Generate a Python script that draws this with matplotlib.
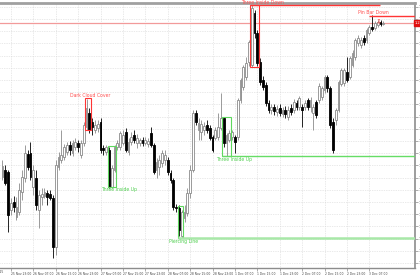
import numpy as np
import matplotlib
matplotlib.use("Agg")
import matplotlib.pyplot as plt
from matplotlib.patches import Rectangle
from matplotlib.transforms import blended_transform_factory

# ---------------- data (EURUSD H1, 25 Nov 2025 - 3 Dec 2025) ----------------
opens = [1.2391, 1.2398, 1.2396, 1.2358, 1.2366, 1.2351, 1.2356, 1.2376, 1.2390, 1.2414,
         1.2415, 1.2381, 1.2390, 1.2358, 1.2371, 1.2372, 1.2375, 1.2374, 1.2370, 1.2321,
         1.2401, 1.2408, 1.2411, 1.2416, 1.2423, 1.2415, 1.2421, 1.2425, 1.2413, 1.2425,
         1.2441, 1.2455, 1.2446, 1.2438, 1.2440, 1.2446, 1.2420, 1.2416, 1.2418, 1.2381,
         1.2398, 1.2421, 1.2421, 1.2425, 1.2436, 1.2416, 1.2426, 1.2433, 1.2425, 1.2425,
         1.2428, 1.2425, 1.2424, 1.2435, 1.2423, 1.2398, 1.2401, 1.2405, 1.2408, 1.2408,
         1.2395, 1.2388, 1.2361, 1.2360, 1.2332, 1.2350, 1.2355, 1.2375, 1.2398, 1.2455,
         1.2438, 1.2436, 1.2438, 1.2443, 1.2440, 1.2431, 1.2430, 1.2431, 1.2440, 1.2450,
         1.2425, 1.2428, 1.2431, 1.2431, 1.2431, 1.2468, 1.2481, 1.2491, 1.2506, 1.2503,
         1.2555, 1.2535, 1.2506, 1.2488, 1.2483, 1.2465, 1.2458, 1.2461, 1.2456, 1.2460,
         1.2454, 1.2458, 1.2451, 1.2460, 1.2458, 1.2465, 1.2461, 1.2461, 1.2461, 1.2468,
         1.2461, 1.2455, 1.2466, 1.2468, 1.2471, 1.2478, 1.2491, 1.2480, 1.2446, 1.2448,
         1.2458, 1.2484, 1.2485, 1.2496, 1.2491, 1.2503, 1.2511, 1.2525, 1.2523, 1.2530,
         1.2528, 1.2535, 1.2541, 1.2540, 1.2543, 1.2546, 1.2544]
highs = [1.2408, 1.2403, 1.2398, 1.2370, 1.2372, 1.2371, 1.2385, 1.2398, 1.2423, 1.2418,
         1.2426, 1.2403, 1.2398, 1.2378, 1.2380, 1.2380, 1.2378, 1.2378, 1.2373, 1.2408,
         1.2416, 1.2438, 1.2424, 1.2426, 1.2427, 1.2428, 1.2430, 1.2428, 1.2428, 1.2446,
         1.2469, 1.2460, 1.2450, 1.2448, 1.2448, 1.2450, 1.2423, 1.2423, 1.2421, 1.2403,
         1.2423, 1.2428, 1.2437, 1.2438, 1.2440, 1.2430, 1.2436, 1.2438, 1.2434, 1.2430,
         1.2431, 1.2431, 1.2430, 1.2441, 1.2425, 1.2410, 1.2413, 1.2418, 1.2418, 1.2411,
         1.2398, 1.2390, 1.2364, 1.2363, 1.2358, 1.2363, 1.2380, 1.2403, 1.2458, 1.2458,
         1.2450, 1.2448, 1.2446, 1.2448, 1.2443, 1.2433, 1.2441, 1.2455, 1.2475, 1.2451,
         1.2435, 1.2438, 1.2438, 1.2433, 1.2470, 1.2490, 1.2503, 1.2511, 1.2528, 1.2563,
         1.2558, 1.2538, 1.2510, 1.2492, 1.2486, 1.2468, 1.2464, 1.2464, 1.2463, 1.2464,
         1.2461, 1.2462, 1.2462, 1.2464, 1.2469, 1.2468, 1.2472, 1.2464, 1.2468, 1.2470,
         1.2471, 1.2464, 1.2468, 1.2485, 1.2482, 1.2493, 1.2493, 1.2482, 1.2450, 1.2460,
         1.2488, 1.2500, 1.2500, 1.2511, 1.2512, 1.2518, 1.2530, 1.2533, 1.2531, 1.2533,
         1.2540, 1.2543, 1.2553, 1.2547, 1.2548, 1.2548, 1.2547]
lows = [1.2388, 1.2383, 1.2336, 1.2353, 1.2356, 1.2348, 1.2353, 1.2368, 1.2386, 1.2398,
        1.2388, 1.2373, 1.2358, 1.2340, 1.2363, 1.2370, 1.2363, 1.2368, 1.2310, 1.2313,
        1.2398, 1.2405, 1.2408, 1.2413, 1.2413, 1.2412, 1.2418, 1.2416, 1.2410, 1.2422,
        1.2438, 1.2435, 1.2433, 1.2435, 1.2436, 1.2415, 1.2413, 1.2413, 1.2380, 1.2380,
        1.2396, 1.2418, 1.2418, 1.2423, 1.2416, 1.2413, 1.2423, 1.2425, 1.2420, 1.2422,
        1.2422, 1.2423, 1.2421, 1.2421, 1.2394, 1.2390, 1.2393, 1.2401, 1.2403, 1.2393,
        1.2385, 1.2358, 1.2356, 1.2332, 1.2330, 1.2346, 1.2352, 1.2370, 1.2396, 1.2443,
        1.2428, 1.2428, 1.2433, 1.2435, 1.2428, 1.2416, 1.2428, 1.2428, 1.2438, 1.2421,
        1.2412, 1.2426, 1.2428, 1.2415, 1.2428, 1.2465, 1.2478, 1.2488, 1.2502, 1.2501,
        1.2530, 1.2502, 1.2483, 1.2478, 1.2462, 1.2455, 1.2454, 1.2453, 1.2452, 1.2452,
        1.2451, 1.2450, 1.2448, 1.2453, 1.2455, 1.2458, 1.2458, 1.2441, 1.2458, 1.2458,
        1.2456, 1.2438, 1.2450, 1.2465, 1.2468, 1.2475, 1.2476, 1.2440, 1.2415, 1.2443,
        1.2456, 1.2482, 1.2482, 1.2486, 1.2489, 1.2501, 1.2508, 1.2522, 1.2520, 1.2523,
        1.2525, 1.2533, 1.2537, 1.2538, 1.2541, 1.2542, 1.2543]
closes = [1.2402, 1.2385, 1.2353, 1.2365, 1.2361, 1.2361, 1.2378, 1.2391, 1.2415, 1.2401,
          1.2391, 1.2398, 1.2363, 1.2373, 1.2374, 1.2376, 1.2371, 1.2370, 1.2321, 1.2403,
          1.2411, 1.2413, 1.2421, 1.2423, 1.2418, 1.2425, 1.2426, 1.2421, 1.2425, 1.2443,
          1.2460, 1.2438, 1.2441, 1.2443, 1.2444, 1.2418, 1.2418, 1.2421, 1.2381, 1.2400,
          1.2421, 1.2425, 1.2435, 1.2433, 1.2418, 1.2426, 1.2431, 1.2428, 1.2430, 1.2428,
          1.2425, 1.2428, 1.2427, 1.2423, 1.2396, 1.2406, 1.2408, 1.2415, 1.2413, 1.2396,
          1.2388, 1.2361, 1.2360, 1.2338, 1.2356, 1.2356, 1.2375, 1.2398, 1.2455, 1.2446,
          1.2445, 1.2444, 1.2442, 1.2438, 1.2430, 1.2418, 1.2438, 1.2441, 1.2450, 1.2425,
          1.2433, 1.2435, 1.2436, 1.2426, 1.2468, 1.2488, 1.2501, 1.2505, 1.2526, 1.2560,
          1.2535, 1.2505, 1.2486, 1.2481, 1.2465, 1.2458, 1.2461, 1.2457, 1.2459, 1.2455,
          1.2458, 1.2454, 1.2458, 1.2456, 1.2466, 1.2461, 1.2470, 1.2458, 1.2465, 1.2461,
          1.2468, 1.2461, 1.2453, 1.2482, 1.2480, 1.2491, 1.2480, 1.2443, 1.2418, 1.2458,
          1.2486, 1.2498, 1.2498, 1.2488, 1.2510, 1.2515, 1.2528, 1.2530, 1.2528, 1.2526,
          1.2538, 1.2541, 1.2539, 1.2545, 1.2546, 1.2544, 1.2545]

tick_bars = [3, 11, 19, 27, 35, 43, 51, 59, 67, 75, 83, 91, 99, 107, 115, 123, 131]
tick_labels = ["25 Nov 23:00", "26 Nov 07:00", "26 Nov 15:00", "26 Nov 23:00",
               "27 Nov 07:00", "27 Nov 15:00", "27 Nov 23:00", "28 Nov 07:00",
               "28 Nov 15:00", "28 Nov 23:00", "1 Dec 07:00", "1 Dec 15:00",
               "1 Dec 23:00", "2 Dec 07:00", "2 Dec 15:00", "2 Dec 23:00", "3 Dec 07:00"]
first_label = "25 Nov 2025"

# candlestick pattern boxes
box_names = ["Dark Cloud Cover", "Three Inside Up", "Piercing Line", "Three Inside Up", "Three Inside Down"]
box_first = [30, 38, 63, 79, 89]
box_last = [31, 40, 64, 81, 91]
box_top = [1.2470, 1.2422, 1.2362, 1.2451, 1.2563]
box_bottom = [1.2438, 1.2381, 1.2330, 1.2412, 1.2501]
box_bullish = [False, True, True, True, False]
label_bar = [31.2, 41.6, 64.5, 82.7, 92.7]
label_price = [1.2472, 1.2378, 1.2326, 1.2408, 1.2566]

# level lines: (price, from bar, to bar or None = right edge)
level_price = [1.2412, 1.2330, 1.2563, 1.2552]
level_from = [79, 63, 89, 131.3]
level_to = [None, None, 134.8, None]
level_bullish = [True, True, False, False]

pin_label = "Pin Bar Down"
pin_label_bar = 132.3
pin_label_price = 1.2555
pin_arrow_bar = 134.3
pin_arrow_price = 1.25465

current_price = 1.2545

# ---------------- figure ----------------
W, H = 420, 280
fig = plt.figure(figsize=(W / 100, H / 100), dpi=100)
ax = fig.add_axes([0, 12 / H, 415 / W, 265 / H])

x = np.arange(len(opens))
o = np.array(opens); h = np.array(highs); l = np.array(lows); c = np.array(closes)
up = c >= o

bull_edge = "#8a8a8a"
ax.vlines(x[up], l[up], h[up], color=bull_edge, lw=0.6, zorder=3)
ax.vlines(x[~up], l[~up], h[~up], color="black", lw=0.6, zorder=3)
body = np.maximum(np.abs(c - o), 0.00004)
ax.bar(x[up], body[up], bottom=np.minimum(o, c)[up], width=0.62,
       facecolor="white", edgecolor=bull_edge, linewidth=0.6, zorder=4)
ax.bar(x[~up], body[~up], bottom=np.minimum(o, c)[~up], width=0.62,
       facecolor="black", edgecolor="black", linewidth=0.6, zorder=4)

xmin, xmax = -0.89, 147.3
ax.set_xlim(xmin, xmax)
ax.set_ylim(1.2300, 1.2565)

red = "#ff3535"
red_txt = "#ff5050"
green = "#5fd85f"
green_txt = "#4fcf4f"

# current price line
ax.axhline(current_price, color="#f29a9a", lw=0.9, zorder=2)

# pattern boxes and labels
for i in range(len(box_names)):
    col = green if box_bullish[i] else red
    tcol = green_txt if box_bullish[i] else red_txt
    ax.add_patch(Rectangle((box_first[i] - 0.5, box_bottom[i]),
                           box_last[i] - box_first[i] + 1.0, box_top[i] - box_bottom[i],
                           fill=False, edgecolor=col, lw=0.8, zorder=5))
    ax.text(label_bar[i], label_price[i], box_names[i], color=tcol, fontsize=3.3,
            ha="center", va="center", zorder=6, clip_on=False)

for i in range(len(level_price)):
    col = "#66dd66" if level_bullish[i] else red
    x1 = xmax if level_to[i] is None else level_to[i]
    lw = 1.0
    if level_bullish[i] and i == 1:
        col = "#a8e8a8"; lw = 1.8
    ax.hlines(level_price[i], level_from[i] - 0.5, x1, color=col, lw=lw, zorder=5)

ax.text(pin_label_bar, pin_label_price, pin_label, color=red_txt, fontsize=3.3,
        ha="center", va="center", zorder=6)
ax.text(pin_arrow_bar, pin_arrow_price, "\u21e9", color=red, fontsize=5,
        ha="center", va="center", zorder=6)

# grid / ticks
ax.set_xticks(tick_bars)
ax.set_xticklabels(tick_labels, fontsize=2.2, color="#444444", ha="left")
yt = np.arange(1.2305, 1.2565, 0.00122)
ax.set_yticks(yt)
ax.set_yticklabels(["%.4f" % v for v in yt], fontsize=2.6, color="#444444")
ax.yaxis.tick_right()
ax.tick_params(axis="x", length=2, width=0.5, color="#888888", pad=1)
ax.tick_params(axis="y", length=2, width=0.5, color="#888888", pad=0.8)
ax.grid(True, color="#d4d4d4", lw=0.5, linestyle=(0, (1, 1.5)), zorder=0)
ax.set_axisbelow(True)

for s in ["left"]:
    ax.spines[s].set_visible(False)
ax.spines["top"].set_color("#a0a0a0"); ax.spines["top"].set_linewidth(2)
ax.spines["right"].set_color("#8c8c8c"); ax.spines["right"].set_linewidth(1.2)
ax.spines["bottom"].set_color("#8c8c8c"); ax.spines["bottom"].set_linewidth(1.0)

# first (partly hidden) date label
fig.text(3 / W, 8 / H, first_label, fontsize=2.2, color="#444444", ha="right", va="center")

# price tag on the right axis
tr = blended_transform_factory(ax.transAxes, ax.transData)
ax.text(1.0, current_price, "%.4f" % current_price, transform=tr, fontsize=2.6,
        color="white", ha="left", va="center", clip_on=False, zorder=7,
        bbox=dict(boxstyle="square,pad=0.25", fc="#e01010", ec="#e01010"))

fig.savefig("out.png", dpi=100, facecolor="white")
